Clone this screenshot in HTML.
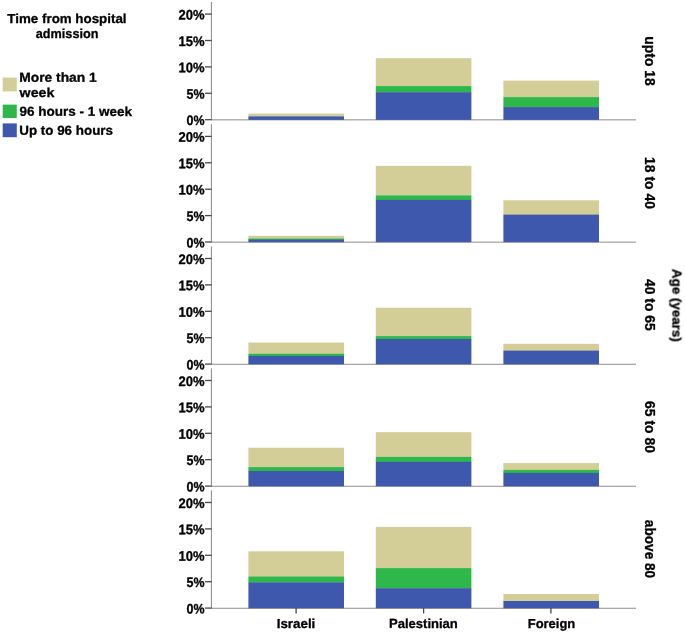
<!DOCTYPE html>
<html><head><meta charset="utf-8"><title>chart</title>
<style>
html,body{margin:0;padding:0;background:#fff;}
body{width:685px;height:633px;overflow:hidden;}
svg{display:block;}
text{font-family:"Liberation Sans",sans-serif;font-weight:bold;fill:#000;stroke:#000;stroke-width:0.3px;}
</style></head><body>
<svg width="685" height="633" viewBox="0 0 685 633">
<defs><filter id="soft" x="0" y="0" width="685" height="633" filterUnits="userSpaceOnUse"><feGaussianBlur stdDeviation="0.35"/></filter></defs>
<rect x="0" y="0" width="685" height="633" fill="#ffffff"/>
<g filter="url(#soft)">

<text transform="translate(66.95,23.0) rotate(0.05)" font-size="13" text-anchor="middle" textLength="119.2" lengthAdjust="spacingAndGlyphs">Time from hospital</text>
<text transform="translate(67.1,38.1) rotate(0.05)" font-size="13" text-anchor="middle" textLength="62.6" lengthAdjust="spacingAndGlyphs">admission</text>
<rect x="2.7" y="77.6" width="14.1" height="13.8" fill="#d3ce97"/>
<rect x="2.7" y="104.6" width="14.1" height="13.4" fill="#2eb84b"/>
<rect x="2.7" y="123.4" width="14.1" height="13.8" fill="#3e58ac"/>
<text transform="translate(19.2,81.8) rotate(0.05)" font-size="13" textLength="77.6" lengthAdjust="spacingAndGlyphs">More than 1</text>
<text transform="translate(19.6,96.9) rotate(0.05)" font-size="13" textLength="34.8" lengthAdjust="spacingAndGlyphs">week</text>
<text transform="translate(19.4,115.8) rotate(0.05)" font-size="13" textLength="112.6" lengthAdjust="spacingAndGlyphs">96 hours - 1 week</text>
<text transform="translate(19.2,134.7) rotate(0.05)" font-size="13" textLength="93.8" lengthAdjust="spacingAndGlyphs">Up to 96 hours</text>
<line x1="211.4" y1="2.0" x2="211.4" y2="119.7" stroke="#888888" stroke-width="1"/>
<line x1="211" y1="119.85" x2="636" y2="119.85" stroke="#8c8c8c" stroke-width="1"/>
<line x1="205" y1="119.7" x2="211.6" y2="119.7" stroke="#484848" stroke-width="1.3"/>
<text transform="translate(204.5,125.1) rotate(0.05)" font-size="13.8" text-anchor="end" textLength="18.0" lengthAdjust="spacingAndGlyphs">0%</text>
<line x1="205" y1="93.3" x2="211.6" y2="93.3" stroke="#484848" stroke-width="1.3"/>
<text transform="translate(204.5,98.7) rotate(0.05)" font-size="13.8" text-anchor="end" textLength="18.0" lengthAdjust="spacingAndGlyphs">5%</text>
<line x1="205" y1="66.9" x2="211.6" y2="66.9" stroke="#484848" stroke-width="1.3"/>
<text transform="translate(204.5,72.3) rotate(0.05)" font-size="13.8" text-anchor="end" textLength="26.1" lengthAdjust="spacingAndGlyphs">10%</text>
<line x1="205" y1="40.5" x2="211.6" y2="40.5" stroke="#484848" stroke-width="1.3"/>
<text transform="translate(204.5,45.9) rotate(0.05)" font-size="13.8" text-anchor="end" textLength="26.1" lengthAdjust="spacingAndGlyphs">15%</text>
<line x1="205" y1="14.1" x2="211.6" y2="14.1" stroke="#484848" stroke-width="1.3"/>
<text transform="translate(204.5,19.5) rotate(0.05)" font-size="13.8" text-anchor="end" textLength="26.1" lengthAdjust="spacingAndGlyphs">20%</text>
<rect x="248.4" y="113.6" width="95.6" height="3.1" fill="#d3ce97"/>
<rect x="248.4" y="116.4" width="95.6" height="3.5" fill="#3e58ac"/>
<rect x="375.8" y="58.2" width="95.6" height="28.2" fill="#d3ce97"/>
<rect x="375.8" y="86.1" width="95.6" height="6.4" fill="#2eb84b"/>
<rect x="375.8" y="92.2" width="95.6" height="27.7" fill="#3e58ac"/>
<rect x="503.4" y="80.6" width="95.6" height="16.8" fill="#d3ce97"/>
<rect x="503.4" y="97.1" width="95.6" height="10.3" fill="#2eb84b"/>
<rect x="503.4" y="107.1" width="95.6" height="12.8" fill="#3e58ac"/>
<line x1="211.4" y1="124.3" x2="211.4" y2="242.0" stroke="#888888" stroke-width="1"/>
<line x1="211" y1="242.15" x2="636" y2="242.15" stroke="#8c8c8c" stroke-width="1"/>
<line x1="205" y1="242.0" x2="211.6" y2="242.0" stroke="#484848" stroke-width="1.3"/>
<text transform="translate(204.5,247.4) rotate(0.05)" font-size="13.8" text-anchor="end" textLength="18.0" lengthAdjust="spacingAndGlyphs">0%</text>
<line x1="205" y1="215.6" x2="211.6" y2="215.6" stroke="#484848" stroke-width="1.3"/>
<text transform="translate(204.5,221.0) rotate(0.05)" font-size="13.8" text-anchor="end" textLength="18.0" lengthAdjust="spacingAndGlyphs">5%</text>
<line x1="205" y1="189.2" x2="211.6" y2="189.2" stroke="#484848" stroke-width="1.3"/>
<text transform="translate(204.5,194.6) rotate(0.05)" font-size="13.8" text-anchor="end" textLength="26.1" lengthAdjust="spacingAndGlyphs">10%</text>
<line x1="205" y1="162.8" x2="211.6" y2="162.8" stroke="#484848" stroke-width="1.3"/>
<text transform="translate(204.5,168.2) rotate(0.05)" font-size="13.8" text-anchor="end" textLength="26.1" lengthAdjust="spacingAndGlyphs">15%</text>
<line x1="205" y1="136.4" x2="211.6" y2="136.4" stroke="#484848" stroke-width="1.3"/>
<text transform="translate(204.5,141.8) rotate(0.05)" font-size="13.8" text-anchor="end" textLength="26.1" lengthAdjust="spacingAndGlyphs">20%</text>
<rect x="248.4" y="235.8" width="95.6" height="3.0" fill="#d3ce97"/>
<rect x="248.4" y="238.5" width="95.6" height="1.5" fill="#2eb84b"/>
<rect x="248.4" y="239.7" width="95.6" height="2.5" fill="#3e58ac"/>
<rect x="375.8" y="165.8" width="95.6" height="29.9" fill="#d3ce97"/>
<rect x="375.8" y="195.4" width="95.6" height="4.8" fill="#2eb84b"/>
<rect x="375.8" y="199.9" width="95.6" height="42.3" fill="#3e58ac"/>
<rect x="503.4" y="200.3" width="95.6" height="14.6" fill="#d3ce97"/>
<rect x="503.4" y="214.6" width="95.6" height="27.6" fill="#3e58ac"/>
<line x1="211.4" y1="246.4" x2="211.4" y2="364.1" stroke="#888888" stroke-width="1"/>
<line x1="211" y1="364.25" x2="636" y2="364.25" stroke="#8c8c8c" stroke-width="1"/>
<line x1="205" y1="364.1" x2="211.6" y2="364.1" stroke="#484848" stroke-width="1.3"/>
<text transform="translate(204.5,369.5) rotate(0.05)" font-size="13.8" text-anchor="end" textLength="18.0" lengthAdjust="spacingAndGlyphs">0%</text>
<line x1="205" y1="337.7" x2="211.6" y2="337.7" stroke="#484848" stroke-width="1.3"/>
<text transform="translate(204.5,343.1) rotate(0.05)" font-size="13.8" text-anchor="end" textLength="18.0" lengthAdjust="spacingAndGlyphs">5%</text>
<line x1="205" y1="311.3" x2="211.6" y2="311.3" stroke="#484848" stroke-width="1.3"/>
<text transform="translate(204.5,316.7) rotate(0.05)" font-size="13.8" text-anchor="end" textLength="26.1" lengthAdjust="spacingAndGlyphs">10%</text>
<line x1="205" y1="284.9" x2="211.6" y2="284.9" stroke="#484848" stroke-width="1.3"/>
<text transform="translate(204.5,290.3) rotate(0.05)" font-size="13.8" text-anchor="end" textLength="26.1" lengthAdjust="spacingAndGlyphs">15%</text>
<line x1="205" y1="258.5" x2="211.6" y2="258.5" stroke="#484848" stroke-width="1.3"/>
<text transform="translate(204.5,263.9) rotate(0.05)" font-size="13.8" text-anchor="end" textLength="26.1" lengthAdjust="spacingAndGlyphs">20%</text>
<rect x="248.4" y="342.5" width="95.6" height="11.6" fill="#d3ce97"/>
<rect x="248.4" y="353.8" width="95.6" height="2.4" fill="#2eb84b"/>
<rect x="248.4" y="355.9" width="95.6" height="8.4" fill="#3e58ac"/>
<rect x="375.8" y="307.7" width="95.6" height="28.7" fill="#d3ce97"/>
<rect x="375.8" y="336.1" width="95.6" height="3.2" fill="#2eb84b"/>
<rect x="375.8" y="339.0" width="95.6" height="25.3" fill="#3e58ac"/>
<rect x="503.4" y="343.8" width="95.6" height="7.1" fill="#d3ce97"/>
<rect x="503.4" y="350.6" width="95.6" height="13.7" fill="#3e58ac"/>
<line x1="211.4" y1="368.4" x2="211.4" y2="486.1" stroke="#888888" stroke-width="1"/>
<line x1="211" y1="486.25" x2="636" y2="486.25" stroke="#8c8c8c" stroke-width="1"/>
<line x1="205" y1="486.1" x2="211.6" y2="486.1" stroke="#484848" stroke-width="1.3"/>
<text transform="translate(204.5,491.5) rotate(0.05)" font-size="13.8" text-anchor="end" textLength="18.0" lengthAdjust="spacingAndGlyphs">0%</text>
<line x1="205" y1="459.7" x2="211.6" y2="459.7" stroke="#484848" stroke-width="1.3"/>
<text transform="translate(204.5,465.1) rotate(0.05)" font-size="13.8" text-anchor="end" textLength="18.0" lengthAdjust="spacingAndGlyphs">5%</text>
<line x1="205" y1="433.3" x2="211.6" y2="433.3" stroke="#484848" stroke-width="1.3"/>
<text transform="translate(204.5,438.7) rotate(0.05)" font-size="13.8" text-anchor="end" textLength="26.1" lengthAdjust="spacingAndGlyphs">10%</text>
<line x1="205" y1="406.9" x2="211.6" y2="406.9" stroke="#484848" stroke-width="1.3"/>
<text transform="translate(204.5,412.3) rotate(0.05)" font-size="13.8" text-anchor="end" textLength="26.1" lengthAdjust="spacingAndGlyphs">15%</text>
<line x1="205" y1="380.5" x2="211.6" y2="380.5" stroke="#484848" stroke-width="1.3"/>
<text transform="translate(204.5,385.9) rotate(0.05)" font-size="13.8" text-anchor="end" textLength="26.1" lengthAdjust="spacingAndGlyphs">20%</text>
<rect x="248.4" y="447.7" width="95.6" height="19.7" fill="#d3ce97"/>
<rect x="248.4" y="467.1" width="95.6" height="4.2" fill="#2eb84b"/>
<rect x="248.4" y="471.0" width="95.6" height="15.3" fill="#3e58ac"/>
<rect x="375.8" y="432.2" width="95.6" height="25.0" fill="#d3ce97"/>
<rect x="375.8" y="456.9" width="95.6" height="5.2" fill="#2eb84b"/>
<rect x="375.8" y="461.8" width="95.6" height="24.5" fill="#3e58ac"/>
<rect x="503.4" y="463.1" width="95.6" height="7.1" fill="#d3ce97"/>
<rect x="503.4" y="469.9" width="95.6" height="3.3" fill="#2eb84b"/>
<rect x="503.4" y="472.9" width="95.6" height="13.4" fill="#3e58ac"/>
<line x1="211.4" y1="490.4" x2="211.4" y2="608.1" stroke="#888888" stroke-width="1"/>
<line x1="211" y1="608.25" x2="636" y2="608.25" stroke="#8c8c8c" stroke-width="1"/>
<line x1="205" y1="608.1" x2="211.6" y2="608.1" stroke="#484848" stroke-width="1.3"/>
<text transform="translate(204.5,613.5) rotate(0.05)" font-size="13.8" text-anchor="end" textLength="18.0" lengthAdjust="spacingAndGlyphs">0%</text>
<line x1="205" y1="581.7" x2="211.6" y2="581.7" stroke="#484848" stroke-width="1.3"/>
<text transform="translate(204.5,587.1) rotate(0.05)" font-size="13.8" text-anchor="end" textLength="18.0" lengthAdjust="spacingAndGlyphs">5%</text>
<line x1="205" y1="555.3" x2="211.6" y2="555.3" stroke="#484848" stroke-width="1.3"/>
<text transform="translate(204.5,560.7) rotate(0.05)" font-size="13.8" text-anchor="end" textLength="26.1" lengthAdjust="spacingAndGlyphs">10%</text>
<line x1="205" y1="528.9" x2="211.6" y2="528.9" stroke="#484848" stroke-width="1.3"/>
<text transform="translate(204.5,534.3) rotate(0.05)" font-size="13.8" text-anchor="end" textLength="26.1" lengthAdjust="spacingAndGlyphs">15%</text>
<line x1="205" y1="502.5" x2="211.6" y2="502.5" stroke="#484848" stroke-width="1.3"/>
<text transform="translate(204.5,507.9) rotate(0.05)" font-size="13.8" text-anchor="end" textLength="26.1" lengthAdjust="spacingAndGlyphs">20%</text>
<rect x="248.4" y="551.3" width="95.6" height="25.5" fill="#d3ce97"/>
<rect x="248.4" y="576.5" width="95.6" height="6.2" fill="#2eb84b"/>
<rect x="248.4" y="582.4" width="95.6" height="25.9" fill="#3e58ac"/>
<rect x="375.8" y="526.9" width="95.6" height="41.5" fill="#d3ce97"/>
<rect x="375.8" y="568.1" width="95.6" height="20.4" fill="#2eb84b"/>
<rect x="375.8" y="588.2" width="95.6" height="20.1" fill="#3e58ac"/>
<rect x="503.4" y="594.0" width="95.6" height="7.3" fill="#d3ce97"/>
<rect x="503.4" y="601.0" width="95.6" height="7.3" fill="#3e58ac"/>
<line x1="296.1" y1="608.1" x2="296.1" y2="613.4" stroke="#484848" stroke-width="1.3"/>
<line x1="423.6" y1="608.1" x2="423.6" y2="613.4" stroke="#484848" stroke-width="1.3"/>
<line x1="550.9" y1="608.1" x2="550.9" y2="613.4" stroke="#484848" stroke-width="1.3"/>
<text transform="translate(296.0,627.9) rotate(0.05)" font-size="13" text-anchor="middle" textLength="38.6" lengthAdjust="spacingAndGlyphs">Israeli</text>
<text transform="translate(423.4,627.9) rotate(0.05)" font-size="13" text-anchor="middle" textLength="68.8" lengthAdjust="spacingAndGlyphs">Palestinian</text>
<text transform="translate(551.5,627.9) rotate(0.05)" font-size="13" text-anchor="middle" textLength="47.6" lengthAdjust="spacingAndGlyphs">Foreign</text>
<text transform="translate(644.8,61) rotate(90)" font-size="14.2" text-anchor="middle" textLength="49.5" lengthAdjust="spacingAndGlyphs">upto 18</text>
<text transform="translate(644.8,183) rotate(90)" font-size="14.2" text-anchor="middle" textLength="51.8" lengthAdjust="spacingAndGlyphs">18 to 40</text>
<text transform="translate(644.8,304.9) rotate(90)" font-size="14.2" text-anchor="middle" textLength="51.8" lengthAdjust="spacingAndGlyphs">40 to 65</text>
<text transform="translate(644.8,427) rotate(90)" font-size="14.2" text-anchor="middle" textLength="51.8" lengthAdjust="spacingAndGlyphs">65 to 80</text>
<text transform="translate(644.8,549) rotate(90)" font-size="14.2" text-anchor="middle" textLength="58.3" lengthAdjust="spacingAndGlyphs">above 80</text>
<text transform="translate(672.4,305.4) rotate(90)" font-size="13" text-anchor="middle" textLength="72.8" lengthAdjust="spacingAndGlyphs">Age (years)</text>
</g></svg></body></html>
